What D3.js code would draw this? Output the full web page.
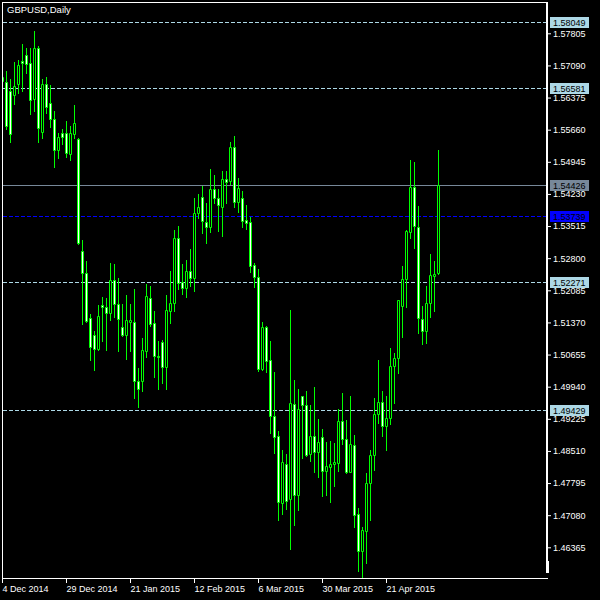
<!DOCTYPE html>
<html><head><meta charset="utf-8">
<script src="https://cdn.jsdelivr.net/npm/d3@7"></script>
<style>html,body{margin:0;padding:0;background:#000;}svg{display:block;}</style>
</head><body>
<script>
const opens  = [1.5674,1.5672,1.5652,1.5644,1.5667,1.5719,1.5732,1.5714,1.5635,1.5747,1.5560,1.5668,1.5625,1.5589,1.5520,1.5559,1.5558,1.5511,1.5557,1.5545,
1.5295,1.5246,1.5146,1.5108,1.5077,1.5176,1.5171,1.5157,1.5231,1.5177,1.5126,1.5109,1.5138,1.5139,1.5007,1.5007,1.5074,1.5191,1.5135,1.5063,
1.5093,1.5037,1.5163,1.5180,1.5326,1.5226,1.5213,1.5252,1.5235,1.5381,1.5417,1.5360,1.5350,1.5435,1.5413,1.5395,1.5456,1.5452,1.5528,1.5404,
1.5415,1.5364,1.5360,1.5265,1.5239,1.5033,1.5126,1.5053,1.4928,1.4884,1.4734,1.4823,1.4743,1.4955,1.4753,1.4973,1.4953,1.4844,1.4884,1.4849,
1.4881,1.4807,1.4816,1.4822,1.4825,1.4918,1.4877,1.4805,1.4864,1.4710,1.4629,1.4673,1.4779,1.4841,1.4933,1.4959,1.4907,1.4924,1.5039,1.5057,
1.5174,1.5233,1.5338,1.5438,1.5349,1.5144,1.5119,1.5180,1.5241,1.5246];
const highs  = [1.5688,1.5697,1.5679,1.5716,1.5720,1.5757,1.5748,1.5748,1.5785,1.5752,1.5679,1.5683,1.5665,1.5608,1.5559,1.5567,1.5585,1.5574,1.5621,1.5547,
1.5320,1.5273,1.5155,1.5118,1.5176,1.5193,1.5191,1.5269,1.5267,1.5236,1.5178,1.5198,1.5178,1.5211,1.5035,1.5102,1.5223,1.5218,1.5162,1.5096,
1.5098,1.5198,1.5251,1.5343,1.5352,1.5267,1.5276,1.5300,1.5414,1.5423,1.5441,1.5402,1.5478,1.5465,1.5434,1.5474,1.5474,1.5539,1.5552,1.5458,
1.5429,1.5398,1.5371,1.5269,1.5256,1.5138,1.5129,1.5096,1.5027,1.4895,1.4853,1.4844,1.5165,1.5009,1.4989,1.4974,1.4984,1.4953,1.4994,1.4922,
1.4900,1.4871,1.4872,1.4869,1.4944,1.4981,1.4920,1.4973,1.4886,1.4725,1.4682,1.4801,1.4853,1.4969,1.5053,1.4984,1.4973,1.5080,1.5068,1.5188,
1.5263,1.5343,1.5499,1.5493,1.5396,1.5174,1.5219,1.5289,1.5274,1.5521];
const lows   = [1.5670,1.5567,1.5539,1.5624,1.5648,1.5651,1.5693,1.5600,1.5608,1.5539,1.5548,1.5604,1.5573,1.5484,1.5504,1.5535,1.5506,1.5499,1.5548,1.5312,
1.5133,1.5139,1.5053,1.5031,1.5076,1.5096,1.5076,1.5142,1.5148,1.5074,1.5107,1.5056,1.5074,1.4969,1.4949,1.4985,1.5059,1.5130,1.5016,1.4988,
1.5003,1.4988,1.5136,1.5163,1.5211,1.5200,1.5194,1.5217,1.5208,1.5369,1.5337,1.5314,1.5339,1.5403,1.5341,1.5330,1.5403,1.5445,1.5393,1.5383,
1.5350,1.5344,1.5250,1.5215,1.5030,1.5031,1.5027,1.4892,1.4847,1.4697,1.4711,1.4722,1.4633,1.4686,1.4720,1.4836,1.4840,1.4829,1.4805,1.4794,
1.4751,1.4753,1.4738,1.4773,1.4806,1.4866,1.4801,1.4803,1.4682,1.4584,1.4566,1.4602,1.4698,1.4809,1.4914,1.4885,1.4854,1.4912,1.4958,1.5025,
1.5105,1.5171,1.5326,1.5303,1.5113,1.5088,1.5091,1.5150,1.5163,1.5244];
const closes = [1.5683,1.5575,1.5557,1.5663,1.5711,1.5714,1.5713,1.5631,1.5747,1.5570,1.5668,1.5616,1.5589,1.5521,1.5550,1.5550,1.5513,1.5558,1.5580,1.5314,
1.5246,1.5140,1.5083,1.5077,1.5151,1.5171,1.5157,1.5231,1.5177,1.5144,1.5109,1.5142,1.5142,1.5007,1.4988,1.5076,1.5195,1.5133,1.5063,1.5061,
1.5037,1.5165,1.5180,1.5326,1.5224,1.5213,1.5252,1.5235,1.5381,1.5393,1.5362,1.5350,1.5433,1.5413,1.5398,1.5456,1.5450,1.5527,1.5404,1.5436,
1.5363,1.5358,1.5263,1.5239,1.5033,1.5126,1.5052,1.4928,1.4883,1.4738,1.4826,1.4740,1.4957,1.4754,1.4944,1.4953,1.4842,1.4884,1.4849,1.4871,
1.4807,1.4817,1.4822,1.4827,1.4918,1.4877,1.4805,1.4866,1.4708,1.4629,1.4675,1.4779,1.4842,1.4933,1.4959,1.4907,1.4924,1.5039,1.5057,1.5187,
1.5233,1.5340,1.5438,1.5352,1.5146,1.5119,1.5180,1.5242,1.5244,1.54426];

const priceTicks = [1.57805,1.57090,1.56375,1.55660,1.54945,1.54230,1.53515,1.52800,1.52085,1.51370,1.50655,1.49940,1.49225,1.48510,1.47795,1.47080,1.46365];
const dateIdx = [0,16,32,48,64,80,96];
const dateLabels = ["4 Dec 2014","29 Dec 2014","21 Jan 2015","12 Feb 2015","6 Mar 2015","30 Mar 2015","21 Apr 2015"];
const levelPrices = [1.58049,1.56581,1.52271,1.49429];
const bidPrice = 1.54426;
const askPrice = 1.53739;
const title = "GBPUSD,Daily";

const W = 600, H = 600;
const FONT = "'Liberation Sans', Arial, sans-serif";
const svg = d3.select("body").append("svg").attr("width", W).attr("height", H)
  .style("background", "#000");
svg.append("rect").attr("width", W).attr("height", H).attr("fill", "#000");

const n = opens.length;
const x = d3.scaleLinear().domain([0, n - 1]).range([2, 2 + 4 * (n - 1)]);
const y = d3.scaleLinear().domain([1.46365, 1.57805]).range([547.3, 33.3]);
const py = v => Math.round(y(v));

svg.append("defs").append("clipPath").attr("id", "plot")
  .append("rect").attr("x", 3).attr("y", 3).attr("width", 543).attr("height", 575);

const plot = svg.append("g").attr("clip-path", "url(#plot)");

// level lines
plot.selectAll("line.lvl").data(levelPrices).join("line")
  .attr("x1", 3).attr("x2", 546)
  .attr("y1", d => py(d) + 0.5).attr("y2", d => py(d) + 0.5)
  .attr("stroke", "#add8e6").attr("stroke-width", 1).attr("stroke-dasharray", "4,2");
plot.append("line").attr("x1", 3).attr("x2", 546)
  .attr("y1", py(askPrice) + 0.5).attr("y2", py(askPrice) + 0.5)
  .attr("stroke", "#0000ff").attr("stroke-dasharray", "4,2");
plot.append("line").attr("x1", 3).attr("x2", 546)
  .attr("y1", py(bidPrice) + 0.5).attr("y2", py(bidPrice) + 0.5)
  .attr("stroke", "#778899");

// candles
const idx = d3.range(n);
plot.selectAll("line.wick").data(idx).join("line")
  .attr("x1", i => Math.round(x(i)) + 0.5).attr("x2", i => Math.round(x(i)) + 0.5)
  .attr("y1", i => py(highs[i])).attr("y2", i => py(lows[i]) + 1)
  .attr("stroke", "#00ff00").attr("stroke-width", 1);
plot.selectAll("path.body").data(idx).join("path")
  .attr("d", i => {
    const c = Math.round(x(i));
    const t = py(Math.max(opens[i], closes[i])) + 0.5;
    const b = py(Math.min(opens[i], closes[i])) + 0.5;
    return `M${c - 0.5},${t}H${c + 1.5}V${b}H${c - 0.5}Z`;
  })
  .attr("fill", i => closes[i] >= opens[i] ? "#000" : "#fff")
  .attr("stroke", "#00ff00").attr("stroke-width", 1);

// frame
const frame = svg.append("g").attr("stroke", "#fff").attr("fill", "none");
frame.append("line").attr("x1", 2).attr("x2", 548).attr("y1", 2.5).attr("y2", 2.5);
frame.append("line").attr("x1", 2.5).attr("x2", 2.5).attr("y1", 2).attr("y2", 579);
frame.append("line").attr("x1", 2).attr("x2", 548).attr("y1", 578.5).attr("y2", 578.5);
frame.append("line").attr("x1", 547).attr("x2", 547).attr("y1", 2).attr("y2", 573).attr("stroke-width", 2);
svg.append("rect").attr("x", 546).attr("y", 561).attr("width", 3).attr("height", 12).attr("fill", "#fff");

// right price axis
const ya = svg.append("g").attr("transform", "translate(548,0)")
  .call(d3.axisRight(y).tickValues(priceTicks).tickSize(3).tickPadding(2).tickFormat(d3.format(".5f")));
ya.select(".domain").remove();
ya.selectAll("line").attr("stroke", "#fff");
ya.selectAll("text").attr("fill", "#fff").style("font-family", FONT).style("font-size", "9px");

// bottom date axis
const xa = svg.append("g").attr("transform", "translate(0,579)")
  .call(d3.axisBottom(x).tickValues(dateIdx).tickSize(4).tickPadding(3).tickFormat((d, i) => dateLabels[i]));
xa.select(".domain").remove();
xa.selectAll("line").attr("stroke", "#fff");
xa.selectAll("text").attr("fill", "#fff").attr("text-anchor", "start").attr("x", 0)
  .style("font-family", FONT).style("font-size", "9px");

// price label boxes
const boxes = levelPrices.map(p => ({p, bg: "#add8e6"}))
  .concat([{p: bidPrice, bg: "#778899"}, {p: askPrice, bg: "#0000ff"}]);
const bg = svg.append("g");
bg.selectAll("rect").data(boxes).join("rect")
  .attr("x", 550).attr("y", d => py(d.p) - 5).attr("width", 39).attr("height", 11)
  .attr("fill", d => d.bg);
bg.selectAll("text").data(boxes).join("text")
  .attr("x", 553).attr("y", d => py(d.p) + 4)
  .attr("fill", "#000").style("font-family", FONT).style("font-size", "9px")
  .text(d => d3.format(".5f")(d.p));

// title
svg.append("text").attr("x", 7).attr("y", 13).attr("fill", "#fff")
  .style("font-family", FONT).style("font-size", "9.5px").text(title);
</script>
</body></html>
